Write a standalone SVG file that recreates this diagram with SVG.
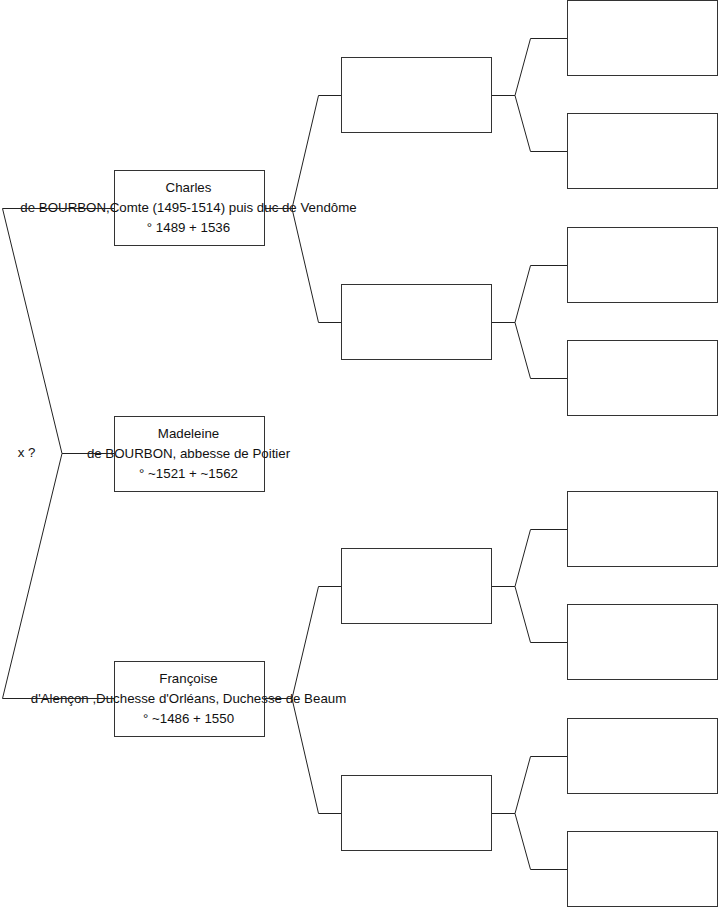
<svg xmlns="http://www.w3.org/2000/svg" width="719" height="908" viewBox="0 0 719 908">
<style>
.box{fill:#fff;stroke:#333;stroke-width:1}
.ln{fill:none;stroke:#222;stroke-width:1}
text{font-family:"Liberation Sans",Arial,sans-serif;font-size:13.3px;fill:#111;text-anchor:middle}
</style>
<rect width="719" height="908" fill="#fff"/>
<g id="n-charles"><rect class="box" x="114.5" y="170.5" width="150" height="75"/>
<text x="188.5" y="192">Charles</text><text x="188.5" y="212">de BOURBON,Comte (1495-1514) puis duc de Vendôme</text><text x="188.5" y="232">° 1489 + 1536</text></g>
<g id="n-madeleine"><rect class="box" x="114.5" y="416.5" width="150" height="75"/>
<text x="188.5" y="438">Madeleine</text><text x="188.5" y="458">de BOURBON, abbesse de Poitier</text><text x="188.5" y="478">° ~1521 + ~1562</text></g>
<g id="n-francoise"><rect class="box" x="114.5" y="661.5" width="150" height="75"/>
<text x="188.5" y="683">Françoise</text><text x="188.5" y="703">d'Alençon ,Duchesse d'Orléans, Duchesse de Beaum</text><text x="188.5" y="723">° ~1486 + 1550</text></g>
<g id="n-x"><text x="26.5" y="457">x ?</text></g>
<g id="n-g2a"><rect class="box" x="341.5" y="57.5" width="150" height="75"/></g>
<g id="n-g2b"><rect class="box" x="341.5" y="284.5" width="150" height="75"/></g>
<g id="n-g2c"><rect class="box" x="341.5" y="548.5" width="150" height="75"/></g>
<g id="n-g2d"><rect class="box" x="341.5" y="775.5" width="150" height="75"/></g>
<g id="n-g3a"><rect class="box" x="567.5" y="0.5" width="150" height="75"/></g>
<g id="n-g3b"><rect class="box" x="567.5" y="113.5" width="150" height="75"/></g>
<g id="n-g3c"><rect class="box" x="567.5" y="227.5" width="150" height="75"/></g>
<g id="n-g3d"><rect class="box" x="567.5" y="340.5" width="150" height="75"/></g>
<g id="n-g3e"><rect class="box" x="567.5" y="491.5" width="150" height="75"/></g>
<g id="n-g3f"><rect class="box" x="567.5" y="604.5" width="150" height="75"/></g>
<g id="n-g3g"><rect class="box" x="567.5" y="718.5" width="150" height="75"/></g>
<g id="n-g3h"><rect class="box" x="567.5" y="831.5" width="150" height="75"/></g>
<g id="connectors">
<path class="ln" d="M114 208.5H2.5L62 453.5L2.5 698.5H114M62 453.5H114"/>
<path class="ln" d="M265 208.5H292L318.5 95.5H341M292 208.5L318.5 322.5H341"/>
<path class="ln" d="M265 698.5H292L318.5 586.5H341M292 698.5L318.5 813.5H341"/>
<path class="ln" d="M492 95.5H515L530.5 38.5H567M515 95.5L530.5 151.5H567"/>
<path class="ln" d="M492 322.5H515L530.5 265.5H567M515 322.5L530.5 378.5H567"/>
<path class="ln" d="M492 586.5H515L530.5 529.5H567M515 586.5L530.5 642.5H567"/>
<path class="ln" d="M492 813.5H515L530.5 756.5H567M515 813.5L530.5 869.5H567"/>
</g>
</svg>
